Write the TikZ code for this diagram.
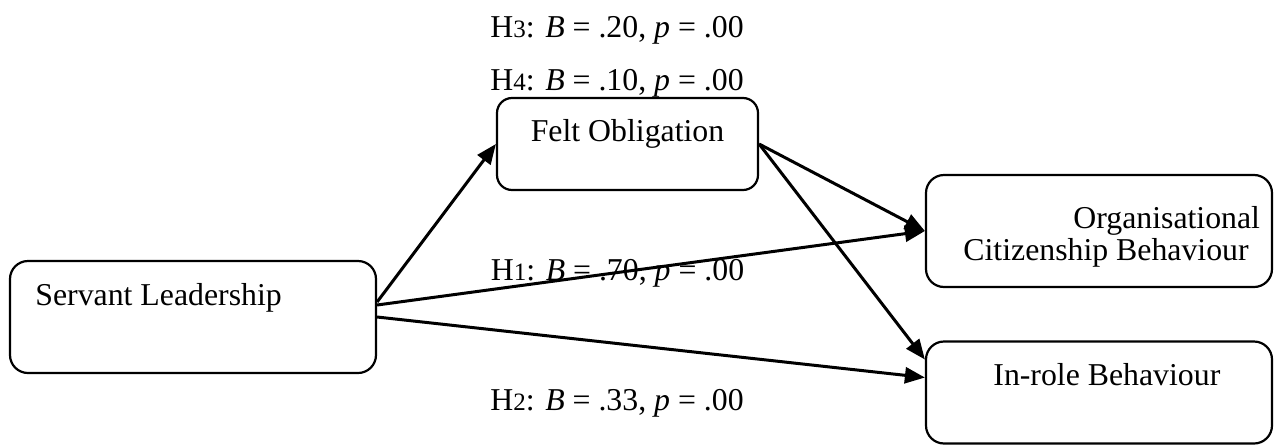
\documentclass[tikz,border=0pt]{standalone}
\usepackage{fontspec}
\setmainfont{Liberation Serif}
\usetikzlibrary{arrows.meta}
\newcommand{\hsub}[1]{\raisebox{-0.4pt}{\fontsize{12.5pt}{12.5pt}\selectfont #1}}
\tikzset{
  boxnode/.style={draw, line width=1.1pt, rounded corners=9pt, inner sep=0pt},
  txt/.style={font=\fontsize{15.9pt}{19pt}\selectfont, inner sep=0pt, anchor=base west},
  conn/.style={line width=1.5pt, -{Triangle[length=10pt,width=8pt]}}
}
\begin{document}
\begin{tikzpicture}[x=0.5pt,y=-0.5pt]
\useasboundingbox (0,0) rectangle (1274,445);
% boxes
\node[boxnode, minimum width=183pt, minimum height=56pt] (SL) at (193,317) {};
\node[boxnode, minimum width=130.5pt, minimum height=46pt, rounded corners=7.5pt] (FO) at (627.5,144) {};
\node[boxnode, minimum width=173pt, minimum height=56pt] (OCB) at (1099,231) {};
\node[boxnode, minimum width=173pt, minimum height=51pt] (IRB) at (1099,392.5) {};
% box texts
\node[txt] (tSL) at (35,305) {Servant Leadership};
\node[txt, anchor=base] (tFO) at (627.5,141.5) {Felt Obligation};
\node[txt] (tOCB1) at (1073,228) {Organisational};
\node[txt] (tOCB2) at (963,260) {Citizenship Behaviour};
\node[txt] (tIRB) at (993,385) {In-role Behaviour};
% connectors
\draw[conn] ([yshift=7.5pt]SL.east) -- (FO.west);
\draw[conn] ([yshift=6pt]SL.east) -- (OCB.west);
\draw[conn] (SL.east) -- ([yshift=7.5pt]IRB.west);
\draw[conn] (FO.east) -- (OCB.west);
\draw[conn] (FO.east) -- ([yshift=16.5pt]IRB.west);
% labels
\node[txt] (H3) at (490,37) {H\hsub{3}: \textit{B} = .20, \textit{p} = .00};
\node[txt] (H4) at (490,90) {H\hsub{4}: \textit{B} = .10, \textit{p} = .00};
\node[txt] (H1) at (490.5,280) {H\hsub{1}: \textit{B} = .70, \textit{p} = .00};
\node[txt] (H2) at (490,410) {H\hsub{2}: \textit{B} = .33, \textit{p} = .00};
\end{tikzpicture}
\end{document}
